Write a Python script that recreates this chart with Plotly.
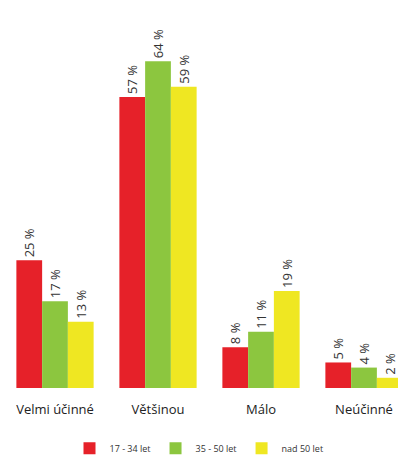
import plotly.graph_objects as go

categories = ["Velmi účinné", "Většinou", "Málo", "Neúčinné"]
series_names = ["17 - 34 let", "35 - 50 let", "nad 50 let"]
v_17_34 = [25, 57, 8, 5]
v_35_50 = [17, 64, 11, 4]
v_nad50 = [13, 59, 19, 2]
colors = ["#E62129", "#8CC63F", "#EFE722"]

fig = go.Figure()
for name, vals, col in zip(series_names, [v_17_34, v_35_50, v_nad50], colors):
    fig.add_trace(go.Bar(
        x=categories, y=vals, name=name, marker_color=col, marker_line_width=0,
        text=[f"{v} %" for v in vals], textposition="outside", textangle=-90,
        textfont=dict(family="Open Sans", size=13, color="#333333"),
        cliponaxis=False, constraintext="none",
    ))

fig.update_layout(
    width=398, height=468,
    margin=dict(l=0, r=0, t=0, b=80),
    paper_bgcolor="white", plot_bgcolor="white",
    barmode="group", bargap=0.25, bargroupgap=0,
    showlegend=True,
    legend=dict(orientation="h", x=0.5, xanchor="center", y=-0.155, yanchor="middle",
                font=dict(family="Open Sans", size=9, color="#333333"),
                itemwidth=30, traceorder="normal"),
    font=dict(family="Open Sans"),
)
fig.update_xaxes(range=[-0.534, 3.33], showgrid=False, showline=False, zeroline=False,
                 tickfont=dict(family="Open Sans", size=13, color="#222222"),
                 ticks="", ticklabelstandoff=12)
fig.update_yaxes(range=[0, 76], visible=False, showgrid=False, zeroline=False)

fig.write_html("out.html")
